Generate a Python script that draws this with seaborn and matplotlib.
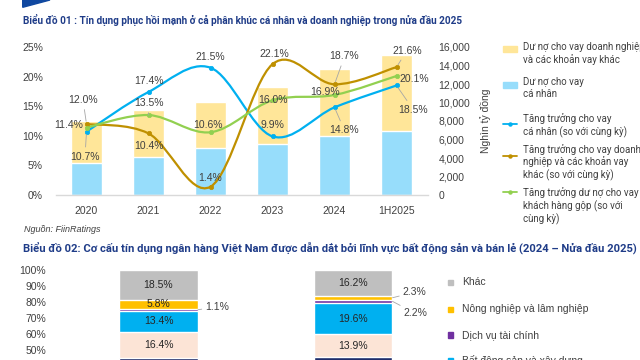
import numpy as np
import matplotlib

matplotlib.use("Agg")
import matplotlib.pyplot as plt
from matplotlib.path import Path
from matplotlib.patches import PathPatch, Polygon, Rectangle
from matplotlib.lines import Line2D
from matplotlib.ticker import FuncFormatter, MultipleLocator
import seaborn as sns

sns.set_theme(style="white")
plt.rcParams['font.family'] = ['Liberation Sans', 'DejaVu Sans']
NARROW = ['Roboto', 'Liberation Sans', 'DejaVu Sans']

# ---------------- chart 1 data ----------------
years = ["2020", "2021", "2022", "2023", "2024", "1H2025"]
loan_indiv = [3500, 4100, 5050, 5500, 6380, 6950]       # Dư nợ cho vay cá nhân
loan_biz = [4500, 5100, 5050, 6200, 7220, 8150]          # Dư nợ cho vay doanh nghiệp & khác
growth_indiv = [10.7, 17.4, 21.5, 9.9, 14.8, 18.5]
growth_biz = [12.0, 10.4, 1.4, 22.1, 18.7, 21.6]
growth_total = [11.4, 13.5, 10.6, 16.0, 16.9, 20.1]

# ---------------- chart 2 data ----------------
periods = ["2024", "1H2025"]
sectors = ["Khác", "Nông nghiệp và lâm nghiệp", "Dịch vụ tài chính",
           "Bất động sản và xây dựng", "Công nghiệp chế biến, chế tạo",
           "Bán buôn, bán lẻ và các ngành còn lại"]
share_2024 = [18.5, 5.8, 1.1, 13.4, 16.4, 44.8]
share_1h2025 = [16.2, 2.3, 2.2, 19.6, 13.9, 45.8]

# colours
C_YELLOW = '#FFE699'
C_LBLUE = '#97DDFB'
C_BLUE = '#00B0F0'
C_BROWN = '#BF9000'
C_GREEN = '#92D050'
SECTOR_COLORS = ['#BFBFBF', '#FFC000', '#7030A0', '#00B0F0', '#FCE4D6', '#1F2D6B']
TITLE_C = '#1F3C88'
TXT = '#404040'
LEADER = '#A6A6A6'

W, H = 640, 360
fig = plt.figure(figsize=(6.4, 3.6), dpi=100)


def px_axes(x0, y0, x1, y1):
    """axes rect from pixel box (top-left origin)"""
    return [x0 / W, 1 - y1 / H, (x1 - x0) / W, (y1 - y0) / H]


def smooth_path(xs, ys):
    """Bezier path through the points (Excel-like smoothed line)"""
    pts = np.column_stack([xs, ys]).astype(float)
    n = len(pts)
    verts, codes = [pts[0]], [Path.MOVETO]
    for i in range(n - 1):
        p0 = pts[max(i - 1, 0)]
        p1, p2 = pts[i], pts[i + 1]
        p3 = pts[min(i + 2, n - 1)]
        verts += [p1 + (p2 - p0) / 6, p2 - (p3 - p1) / 6, p2]
        codes += [Path.CURVE4] * 3
    return Path(verts, codes)


# =============================
# Chart 1
# =============================
ax = fig.add_axes(px_axes(55.5, 47, 427.5, 195))
ax2 = ax.twinx()

loan_total = [a + b for a, b in zip(loan_indiv, loan_biz)]
sns.barplot(x=years, y=loan_total, color=C_YELLOW, saturation=1, width=0.5,
            errorbar=None, ax=ax, zorder=1)
sns.barplot(x=years, y=loan_indiv, color=C_LBLUE, saturation=1, width=0.5,
            errorbar=None, ax=ax, zorder=2)
ax.set_ylim(0, 16000)
ax.set_xlim(-0.5, 5.5)
ax.yaxis.set_major_locator(MultipleLocator(2000))
ax.yaxis.set_major_formatter(FuncFormatter(lambda v, p: f"{int(v):,}"))
ax.yaxis.tick_right()
ax.yaxis.set_label_position('right')
ax.set_ylabel("Nghìn tỷ đồng", fontsize=7.5, color=TXT, labelpad=7)
ax.set_xlabel("")
ax.tick_params(axis='y', length=0, pad=8, labelsize=7.5, labelcolor=TXT)
ax.tick_params(axis='x', length=0, pad=8, labelsize=7.5, labelcolor=TXT)
for s in ['left', 'right', 'top']:
    ax.spines[s].set_visible(False)
ax.spines['bottom'].set_color('#D9D9D9')
ax.spines['bottom'].set_linewidth(1)

ax2.set_ylim(0, 25)
ax2.yaxis.tick_left()
ax2.yaxis.set_major_locator(MultipleLocator(5))
ax2.yaxis.set_major_formatter(FuncFormatter(lambda v, p: f"{int(v)}%"))
ax2.tick_params(axis='y', length=0, pad=9, labelsize=7.5, labelcolor=TXT)
for s in ax2.spines.values():
    s.set_visible(False)

xpos = np.arange(len(years))
series = [(growth_indiv, C_BLUE), (growth_biz, C_BROWN), (growth_total, C_GREEN)]
for vals, col in series:
    ax2.add_patch(PathPatch(smooth_path(xpos, vals), fill=False, edgecolor=col,
                            lw=1.6, zorder=3, capstyle='round'))
    sns.scatterplot(x=xpos, y=vals, color=col, s=10, edgecolor=col, linewidth=0.5,
                    ax=ax2, zorder=4, legend=False)

# label offsets in pixels (dx, dy, leader)
lab_off = {
    'indiv': [(-1.5, -25, True), (0, 11, False), (0, 11, False), (0, 11, False),
              (10, -23, True), (17, -24.5, True)],
    'biz': [(-3.5, 24, True), (0, -12.5, False), (0, 9, False), (1.5, 10, False),
            (10, 28, True), (10.5, 16.5, True)],
    'total': [(-17.5, 2.5, False), (0, 12, True), (-2.5, 7, False), (0, 0, False),
              (-9.5, 3, False), (17.5, -3.3, False)],
}
for key, vals in [('indiv', growth_indiv), ('biz', growth_biz), ('total', growth_total)]:
    for i, v in enumerate(vals):
        dx, dy, leader = lab_off[key][i]
        ap = dict(arrowstyle='-', color=LEADER, lw=0.6, shrinkA=1, shrinkB=2) if leader else None
        ax2.annotate(f"{v:.1f}%", xy=(i, v), xytext=(dx, dy), textcoords='offset pixels',
                     ha='center', va='center', fontsize=7.5, color=TXT,
                     arrowprops=ap, zorder=5)

# =============================
# Chart 2
# =============================
c2_left, c2_right = 60, 420
c2_x0, c2_step = 158.5, 194.5
bx = fig.add_axes(px_axes(c2_left, 270, c2_right, 430))
cum_2024 = 100.0
cum_1h = 100.0
for k, sec in enumerate(sectors):
    sns.barplot(x=periods, y=[cum_2024, cum_1h], color=SECTOR_COLORS[k], saturation=1,
                width=0.406, errorbar=None, ax=bx, zorder=2 + k)
    cum_2024 -= share_2024[k]
    cum_1h -= share_1h2025[k]

bx.set_xlim(-(c2_x0 - c2_left) / c2_step, (c2_right - c2_x0) / c2_step)
bx.set_ylim(0, 100)
# only the upper half of this chart is inside the picture
bx.set_yticks(np.arange(50, 101, 10))
bx.yaxis.set_major_formatter(FuncFormatter(lambda v, p: f"{int(v)}%"))
bx.tick_params(axis='y', length=0, pad=10, labelsize=7.5, labelcolor=TXT)
bx.set_xticks([])
bx.set_xlabel("")
bx.set_ylabel("")
for s in bx.spines.values():
    s.set_visible(False)

small_lab = {(0, 2): (7, 3), (1, 1): (10, 5.5), (1, 2): (11, -12)}
for j, shares in enumerate([share_2024, share_1h2025]):
    top = 100.0
    for k, v in enumerate(shares[:-1]):
        mid = top - v / 2
        if (j, k) in small_lab:
            dx, dy = small_lab[(j, k)]
            bx.annotate(f"{v:.1f}%", xy=(j + 0.203, mid), xytext=(dx, dy),
                        textcoords='offset pixels', ha='left', va='center',
                        fontsize=7.5, color=TXT, zorder=20,
                        arrowprops=dict(arrowstyle='-', color=LEADER, lw=0.6,
                                        shrinkA=0, shrinkB=0))
        else:
            bx.text(j, mid, f"{v:.1f}%", ha='center', va='center', fontsize=7.5,
                    color='#262626', zorder=20)
        top -= v

# =============================
# overlay: titles, legends, source
# =============================
ov = fig.add_axes([0, 0, 1, 1])
ov.set_xlim(0, W)
ov.set_ylim(H, 0)
ov.axis('off')

ov.add_patch(Polygon([(22.7, 0), (50, 0), (22.7, 7.3)], closed=True, color='#1048A0'))
ov.text(22.7, 20, "Biểu đồ 01 : Tín dụng phục hồi mạnh ở cả phân khúc cá nhân và doanh nghiệp trong nửa đầu 2025",
        fontsize=7.2, fontweight='bold', color=TITLE_C, va='center', ha='left', family=NARROW)
ov.text(24, 229, "Nguồn: FiinRatings", fontsize=6.5, style='italic', color=TXT,
        va='center', ha='left')
ov.text(23, 248, "Biểu đồ 02: Cơ cấu tín dụng ngân hàng Việt Nam được dẫn dắt bởi lĩnh vực bất động sản và bán lẻ (2024 – Nửa đầu 2025)",
        fontsize=8.1, fontweight='bold', color=TITLE_C, va='center', ha='left', family=NARROW)

# chart 1 legend
leg1 = [
    ('patch', C_YELLOW, 49, 47.3, "Dư nợ cho vay doanh nghiệp\nvà các khoản vay khác"),
    ('patch', C_LBLUE, 85, 82.3, "Dư nợ cho vay\ncá nhân"),
    ('line', C_BLUE, 124.3, 118.3, "Tăng trưởng cho vay\ncá nhân (so với cùng kỳ)"),
    ('line', C_BROWN, 156, 148.7, "Tăng trưởng cho vay doanh\nnghiệp và các khoản vay\nkhác (so với cùng kỳ)"),
    ('line', C_GREEN, 192.3, 192.3, "Tăng trưởng dư nợ cho vay\nkhách hàng gộp (so với\ncùng kỳ)"),
]
for kind, col, hy, ty, lab in leg1:
    if kind == 'patch':
        ov.add_patch(Rectangle((503.3, hy - 3.3), 13.4, 6.6, color=col))
    else:
        ov.add_line(Line2D([503, 517], [hy, hy], color=col, lw=1.3))
        ov.plot([510], [hy], 'o', color=col, ms=2.2)
    ov.text(523, ty - 5, lab, fontsize=7, color=TXT, va='top', ha='left',
            linespacing=1.2, family=NARROW)

# chart 2 legend
for k, ly in enumerate([282.3, 309.3, 335, 360.5]):
    ov.add_patch(Rectangle((448, ly - 2.7), 5.4, 5.4, color=SECTOR_COLORS[k]))
    ov.text(461.7, ly, sectors[k], fontsize=7.5, color=TXT, va='center', ha='left')

plt.savefig("out.png", dpi=100)
